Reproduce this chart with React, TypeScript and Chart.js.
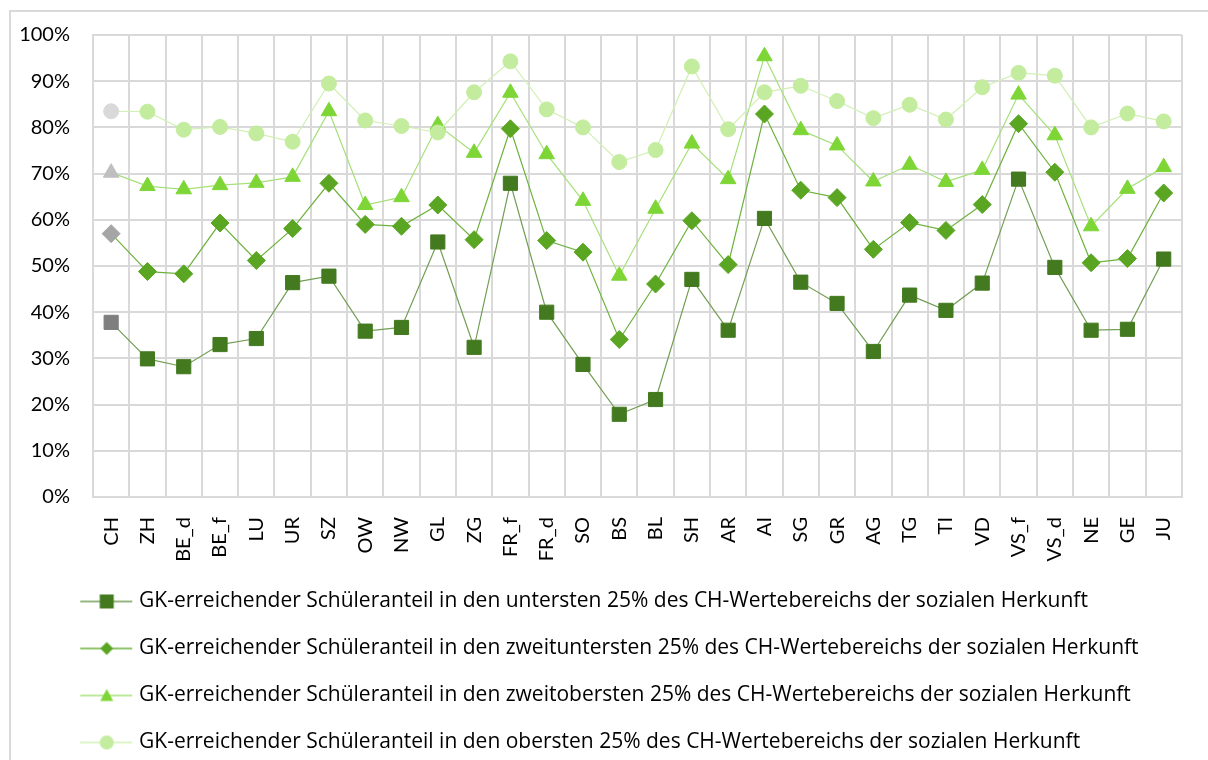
import React, { useEffect, useRef } from 'react';
import { Chart, registerables } from 'chart.js';

Chart.register(...registerables);

const categories = ['CH', 'ZH', 'BE_d', 'BE_f', 'LU', 'UR', 'SZ', 'OW', 'NW', 'GL', 'ZG', 'FR_f', 'FR_d', 'SO', 'BS', 'BL', 'SH', 'AR', 'AI', 'SG', 'GR', 'AG', 'TG', 'TI', 'VD', 'VS_f', 'VS_d', 'NE', 'GE', 'JU'];

const untersten = [37.8, 29.9, 28.2, 33.0, 34.3, 46.4, 47.8, 35.9, 36.7, 55.2, 32.4, 67.9, 40.0, 28.7, 17.9, 21.1, 47.1, 36.1, 60.3, 46.5, 41.9, 31.5, 43.7, 40.4, 46.3, 68.8, 49.7, 36.1, 36.3, 51.5];
const zweituntersten = [57.0, 48.8, 48.3, 59.3, 51.2, 58.1, 67.9, 59.0, 58.6, 63.2, 55.7, 79.7, 55.5, 53.0, 34.1, 46.1, 59.8, 50.3, 82.9, 66.4, 64.8, 53.6, 59.4, 57.7, 63.3, 80.8, 70.3, 50.7, 51.6, 65.8];
const zweitobersten = [70.2, 67.3, 66.6, 67.5, 68.0, 69.3, 83.5, 63.2, 64.9, 80.5, 74.5, 87.5, 74.2, 64.1, 47.9, 62.4, 76.5, 68.8, 95.4, 79.4, 76.1, 68.3, 71.9, 68.2, 70.8, 87.1, 78.3, 58.6, 66.7, 71.4];
const obersten = [83.5, 83.4, 79.5, 80.1, 78.7, 76.9, 89.5, 81.5, 80.3, 78.9, 87.6, 94.3, 83.9, 80.0, 72.5, 75.1, 93.2, 79.6, 87.6, 89.0, 85.7, 82.0, 84.9, 81.7, 88.7, 91.8, 91.2, 80.0, 83.0, 81.3];

const seriesLabels = [
  'GK-erreichender Schüleranteil in den untersten 25% des CH-Wertebereichs der sozialen Herkunft',
  'GK-erreichender Schüleranteil in den zweituntersten 25% des CH-Wertebereichs der sozialen Herkunft',
  'GK-erreichender Schüleranteil in den zweitobersten 25% des CH-Wertebereichs der sozialen Herkunft',
  'GK-erreichender Schüleranteil in den obersten 25% des CH-Wertebereichs der sozialen Herkunft',
];

const yTicks = [0, 10, 20, 30, 40, 50, 60, 70, 80, 90, 100];

const FONT = "Lato, 'Open Sans', sans-serif";
const LEGEND_FONT = "'Open Sans', Lato, sans-serif";
const GRID = '#D9D9D9';

const markerColors = ['#437A1F', '#5AA623', '#7ED636', '#C3EC9E'];
const chColors = ['#7F7F7F', '#A5A5A5', '#BFBFBF', '#D9D9D9'];
const lineColors = ['#739E55', '#6DB23D', '#A6E07A', '#D0F0B4'];
const shapes = ['rect', 'rectRot', 'triangle', 'circle'];
const radii = [10, 9, 9, 7.5];

function legendImage(line: string, fill: string, shape: string): HTMLCanvasElement {
  const c = document.createElement('canvas');
  c.width = 112;
  c.height = 22;
  const g = c.getContext('2d')!;
  g.strokeStyle = line;
  g.lineWidth = 1.3;
  g.beginPath();
  g.moveTo(59, 11);
  g.lineTo(111, 11);
  g.stroke();
  g.fillStyle = fill;
  const cx = 85.5;
  const cy = 11;
  g.beginPath();
  if (shape === 'rect') {
    g.rect(cx - 7, cy - 7, 14, 14);
  } else if (shape === 'rectRot') {
    g.moveTo(cx, cy - 6.5);
    g.lineTo(cx + 6.5, cy);
    g.lineTo(cx, cy + 6.5);
    g.lineTo(cx - 6.5, cy);
    g.closePath();
  } else if (shape === 'triangle') {
    g.moveTo(cx, cy - 6.5);
    g.lineTo(cx + 6.5, cy + 5.5);
    g.lineTo(cx - 6.5, cy + 5.5);
    g.closePath();
  } else {
    g.arc(cx, cy, 7, 0, Math.PI * 2);
  }
  g.fill();
  return c;
}

export default function App() {
  const ref = useRef<HTMLCanvasElement | null>(null);

  useEffect(() => {
    if (!ref.current) return;
    Chart.defaults.font.family = FONT;
    Chart.defaults.font.size = 20;
    Chart.defaults.color = '#000';

    const all = [untersten, zweituntersten, zweitobersten, obersten];
    const datasets = all.map((values, i) => {
      const colors = categories.map((_, k) => (k === 0 ? chColors[i] : markerColors[i]));
      return {
        label: seriesLabels[i],
        data: values,
        borderColor: lineColors[i],
        borderWidth: 1.2,
        pointStyle: shapes[i] as any,
        pointRadius: radii[i],
        pointHoverRadius: radii[i],
        pointBackgroundColor: colors,
        pointBorderColor: colors,
        pointBorderWidth: 1,
        tension: 0,
        fill: false,
        order: 3 - i,
      };
    });

    const legendImgs = all.map((_, i) => legendImage(lineColors[i], markerColors[i], shapes[i]));

    const chart = new Chart(ref.current, {
      type: 'line',
      data: { labels: categories, datasets },
      options: {
        animation: false,
        responsive: false,
        layout: { padding: { left: 0, right: 17, top: 35, bottom: 7 } },
        scales: {
          x: {
            offset: true,
            grid: { color: GRID, lineWidth: 2, offset: true, drawTicks: false },
            border: { color: GRID, width: 2 },
            ticks: {
              minRotation: 90,
              maxRotation: 90,
              padding: 20,
              autoSkip: false,
              font: { size: 20, family: FONT },
              color: '#000',
            },
            afterFit: (s: any) => {
              s.height = 68;
            },
          },
          y: {
            min: 0,
            max: 100,
            grid: { color: GRID, lineWidth: 2, drawTicks: false },
            border: { color: GRID, width: 2 },
            afterBuildTicks: (s: any) => {
              s.ticks = yTicks.map((v) => ({ value: v }));
            },
            ticks: {
              padding: 23,
              font: { size: 20, family: FONT },
              color: '#000',
              callback: (v: any) => v + '%',
            },
            afterFit: (s: any) => {
              s.width = 93;
            },
          },
        },
        plugins: {
          tooltip: { enabled: false },
          legend: {
            position: 'bottom',
            align: 'start',
            labels: {
              usePointStyle: true,
              pointStyleWidth: 102.5,
              padding: 26,
              color: '#000',
              font: { size: 21, family: LEGEND_FONT },
              generateLabels: () =>
                seriesLabels.map((t, i) => ({
                  text: t,
                  pointStyle: legendImgs[i] as any,
                  fillStyle: markerColors[i],
                  strokeStyle: markerColors[i],
                  lineWidth: 0,
                  hidden: false,
                  datasetIndex: i,
                  fontColor: '#000',
                })),
            },
          },
        },
      },
    });
    return () => chart.destroy();
  }, []);

  return (
    <div style={{ position: 'fixed', left: 0, top: 0, width: 1208, height: 760, overflow: 'hidden', background: '#fff' }}>
      <div
        style={{
          position: 'absolute',
          left: 9,
          top: 10,
          width: 1400,
          height: 1000,
          border: '2px solid #D9D9D9',
        }}
      />
      <canvas ref={ref} width={1208} height={770} style={{ position: 'absolute', left: 0, top: 0, display: 'block' }} />
    </div>
  );
}
